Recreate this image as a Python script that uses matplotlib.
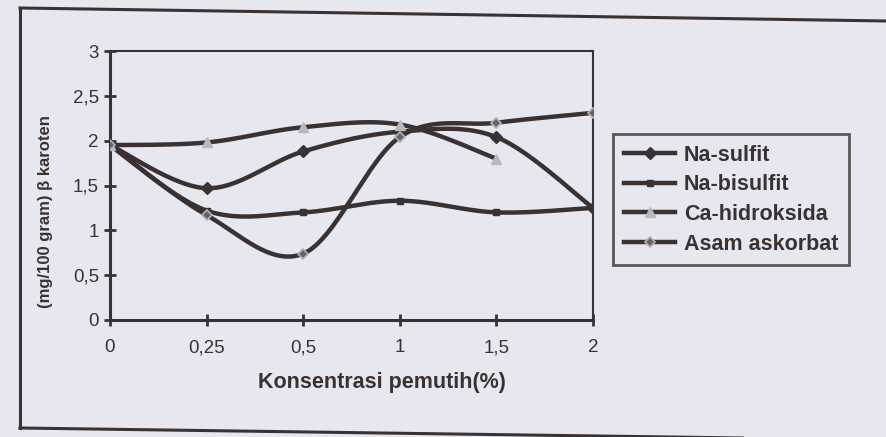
import matplotlib
matplotlib.use('Agg')
import matplotlib.pyplot as plt
from matplotlib.lines import Line2D
import numpy as np

# data
konsentrasi = ['0', '0,25', '0,5', '1', '1,5', '2']
na_sulfit = [1.95, 1.47, 1.88, 2.10, 2.04, 1.25]
na_bisulfit = [1.95, 1.22, 1.20, 1.33, 1.20, 1.25]
ca_hidroksida = [1.95, 1.98, 2.15, 2.18, 1.80]          # no value at 2
asam_askorbat = [1.95, 1.17, 0.74, 2.04, 2.20, 2.31]
y_ticks = [0, 0.5, 1, 1.5, 2, 2.5, 3]
y_ticklabels = ['0', '0,5', '1', '1,5', '2', '2,5', '3']

bg = '#e7e7f0'
ink = '#3a3232'
plt.rcParams['font.family'] = ['Liberation Sans', 'DejaVu Sans']


def smooth(ys, n=30):
    # catmull-rom curve through the points, like excel's "smoothed line"
    xs = np.arange(len(ys), dtype=float)
    p = np.column_stack([xs, ys])
    p = np.vstack([p[0], p, p[-1]])
    out = []
    for i in range(1, len(p) - 2):
        p0, p1, p2, p3 = p[i - 1], p[i], p[i + 1], p[i + 2]
        t = np.linspace(0, 1, n)[:, None]
        pt = 0.5 * ((2 * p1) + (-p0 + p2) * t + (2 * p0 - 5 * p1 + 4 * p2 - p3) * t ** 2
                    + (-p0 + 3 * p1 - 3 * p2 + p3) * t ** 3)
        out.append(pt)
    out = np.vstack(out)
    return out[:, 0], out[:, 1]


fig = plt.figure(figsize=(8.87, 4.37), dpi=100, facecolor=bg)
ax = fig.add_axes([110 / 887, 117 / 437, 483 / 887, 269 / 437])
ax.set_facecolor(bg)

series = [
    ('Na-sulfit', na_sulfit, dict(marker='D', ms=6, mfc=ink, mec=ink)),
    ('Na-bisulfit', na_bisulfit, dict(marker='s', ms=5, mfc=ink, mec=ink)),
    ('Ca-hidroksida', ca_hidroksida, dict(marker='^', ms=7, mfc='#b8b8c0', mec='#b8b8c0')),
    ('Asam askorbat', asam_askorbat, dict(marker='D', ms=5, mfc='#6a6262', mec='#b0b0b8', mew=1.2)),
]

handles = []
for name, vals, mk in series:
    sx, sy = smooth(vals)
    ax.plot(sx, sy, color=ink, lw=3.2, solid_capstyle='round', zorder=2)
    ax.plot(range(len(vals)), vals, ls='none', zorder=3, **mk)
    handles.append(Line2D([], [], color=ink, lw=3.2, **mk))

ax.set_xlim(0, 5)
ax.set_ylim(0, 3)
ax.set_xticks(range(len(konsentrasi)))
ax.set_xticklabels(konsentrasi)
ax.set_yticks(y_ticks)
ax.set_yticklabels(y_ticklabels)
ax.tick_params(direction='inout', length=8, width=2, color=ink, labelcolor=ink,
               labelsize=13.5)
ax.tick_params(axis='x', pad=10)
ax.tick_params(axis='y', pad=4)
ax.spines['left'].set_linewidth(2.2)
ax.spines['bottom'].set_linewidth(2.2)
ax.spines['top'].set_linewidth(1.5)
ax.spines['right'].set_linewidth(1.5)
for s in ax.spines.values():
    s.set_color(ink)

ax.set_xlabel('Konsentrasi pemutih(%)', fontsize=15.5, fontweight='bold', color=ink)
ax.xaxis.set_label_coords(0.563, -0.195)
fig.text(46 / 887, 1 - 212 / 437, '(mg/100 gram) β karoten', rotation=90, fontsize=12,
         fontweight='bold', color=ink, ha='center', va='center')

leg = fig.legend(handles, [s[0] for s in series], loc='upper left',
                 bbox_to_anchor=(613 / 887, 1 - 134 / 437), frameon=True, borderaxespad=0,
                 fancybox=False, handlelength=2.4, labelspacing=0.4, handletextpad=0.4,
                 borderpad=0.5, prop={'weight': 'bold', 'size': 15.5})
leg.get_frame().set_edgecolor(ink)
leg.get_frame().set_linewidth(2)
leg.get_frame().set_facecolor(bg)
for t in leg.get_texts():
    t.set_color(ink)

# outer frame of the scanned chart
fig.add_artist(Line2D([20 / 887, 20 / 887], [1 - 428 / 437, 1 - 8 / 437], color=ink, lw=2.2,
                      transform=fig.transFigure))
fig.add_artist(Line2D([20 / 887, 1.0], [1 - 8 / 437, 1 - 21 / 437], color=ink, lw=2.2,
                      transform=fig.transFigure))
fig.add_artist(Line2D([20 / 887, 1.0], [1 - 428 / 437, 1 - 440 / 437], color=ink, lw=2.2,
                      transform=fig.transFigure))

fig.savefig('out.png', dpi=100, facecolor=bg)
